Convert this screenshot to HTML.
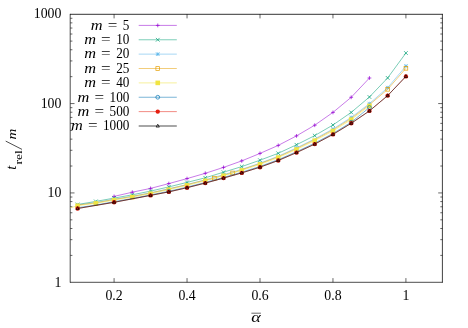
<!DOCTYPE html>
<html><head><meta charset="utf-8"><title>plot</title>
<style>
html,body{margin:0;padding:0;background:#fff;}
svg{display:block;font-family:"Liberation Serif",serif;font-size:13.8px;fill:#000;}
</style></head><body>
<svg width="468" height="328" viewBox="0 0 468 328">
<rect x="0" y="0" width="468" height="328" fill="#fff"/>
<g><path d="M70.2 13.899999999999999V282.6" stroke="#000" stroke-width="0.7"/>
<path d="M442.4 13.899999999999999V282.6" stroke="#000" stroke-width="0.75"/>
<path d="M70.0 14.3H442.7" stroke="#000" stroke-width="0.8"/>
<path d="M70.0 282.3H442.7" stroke="#000" stroke-width="0.7"/>
<path d="M114.08 282.3v-4.2M114.08 14.2v4.2M187.04 282.3v-4.2M187.04 14.2v4.2M260.00 282.3v-4.2M260.00 14.2v4.2M332.96 282.3v-4.2M332.96 14.2v4.2M405.92 282.3v-4.2M405.92 14.2v4.2M70.3 255.40h2.1M442.4 255.40h-2.1M70.3 239.66h2.1M442.4 239.66h-2.1M70.3 228.50h2.1M442.4 228.50h-2.1M70.3 219.84h2.1M442.4 219.84h-2.1M70.3 212.76h2.1M442.4 212.76h-2.1M70.3 206.78h2.1M442.4 206.78h-2.1M70.3 201.59h2.1M442.4 201.59h-2.1M70.3 197.02h2.1M442.4 197.02h-2.1M70.3 192.93h4.2M442.4 192.93h-4.2M70.3 166.03h2.1M442.4 166.03h-2.1M70.3 150.29h2.1M442.4 150.29h-2.1M70.3 139.13h2.1M442.4 139.13h-2.1M70.3 130.47h2.1M442.4 130.47h-2.1M70.3 123.39h2.1M442.4 123.39h-2.1M70.3 117.41h2.1M442.4 117.41h-2.1M70.3 112.23h2.1M442.4 112.23h-2.1M70.3 107.66h2.1M442.4 107.66h-2.1M70.3 103.57h4.2M442.4 103.57h-4.2M70.3 76.66h2.1M442.4 76.66h-2.1M70.3 60.93h2.1M442.4 60.93h-2.1M70.3 49.76h2.1M442.4 49.76h-2.1M70.3 41.10h2.1M442.4 41.10h-2.1M70.3 34.03h2.1M442.4 34.03h-2.1M70.3 28.04h2.1M442.4 28.04h-2.1M70.3 22.86h2.1M442.4 22.86h-2.1M70.3 18.29h2.1M442.4 18.29h-2.1" stroke="#000" stroke-width="0.6" fill="none"/></g>
<g><path d="M114.08 196.40L132.32 192.20L150.56 188.40L168.80 183.60L187.04 178.60L205.28 173.30L223.52 167.40L241.76 160.90L260.00 153.40L278.24 145.40L296.48 135.90L314.72 125.20L332.96 112.40L351.20 97.30L369.44 78.00" stroke="#9400d3" stroke-width="0.52" fill="none"/>
<path d="M112.18 196.40H115.98M114.08 194.50V198.30" stroke="#9400d3" stroke-width="0.7" fill="none"/>
<path d="M130.42 192.20H134.22M132.32 190.30V194.10" stroke="#9400d3" stroke-width="0.7" fill="none"/>
<path d="M148.66 188.40H152.46M150.56 186.50V190.30" stroke="#9400d3" stroke-width="0.7" fill="none"/>
<path d="M166.90 183.60H170.70M168.80 181.70V185.50" stroke="#9400d3" stroke-width="0.7" fill="none"/>
<path d="M185.14 178.60H188.94M187.04 176.70V180.50" stroke="#9400d3" stroke-width="0.7" fill="none"/>
<path d="M203.38 173.30H207.18M205.28 171.40V175.20" stroke="#9400d3" stroke-width="0.7" fill="none"/>
<path d="M221.62 167.40H225.42M223.52 165.50V169.30" stroke="#9400d3" stroke-width="0.7" fill="none"/>
<path d="M239.86 160.90H243.66M241.76 159.00V162.80" stroke="#9400d3" stroke-width="0.7" fill="none"/>
<path d="M258.10 153.40H261.90M260.00 151.50V155.30" stroke="#9400d3" stroke-width="0.7" fill="none"/>
<path d="M276.34 145.40H280.14M278.24 143.50V147.30" stroke="#9400d3" stroke-width="0.7" fill="none"/>
<path d="M294.58 135.90H298.38M296.48 134.00V137.80" stroke="#9400d3" stroke-width="0.7" fill="none"/>
<path d="M312.82 125.20H316.62M314.72 123.30V127.10" stroke="#9400d3" stroke-width="0.7" fill="none"/>
<path d="M331.06 112.40H334.86M332.96 110.50V114.30" stroke="#9400d3" stroke-width="0.7" fill="none"/>
<path d="M349.30 97.30H353.10M351.20 95.40V99.20" stroke="#9400d3" stroke-width="0.7" fill="none"/>
<path d="M367.54 78.00H371.34M369.44 76.10V79.90" stroke="#9400d3" stroke-width="0.7" fill="none"/>
<path d="M77.60 204.50L95.84 201.40L114.08 198.10L132.32 194.80L150.56 191.10L168.80 186.90L187.04 182.40L205.28 177.80L223.52 172.20L241.76 166.60L260.00 160.20L278.24 153.30L296.48 144.80L314.72 135.60L332.96 125.00L351.20 112.40L369.44 97.00L387.68 77.90L405.92 53.00" stroke="#009e73" stroke-width="0.52" fill="none"/>
<path d="M75.75 202.65L79.45 206.35M75.75 206.35L79.45 202.65" stroke="#009e73" stroke-width="0.7" fill="none"/>
<path d="M93.99 199.55L97.69 203.25M93.99 203.25L97.69 199.55" stroke="#009e73" stroke-width="0.7" fill="none"/>
<path d="M112.23 196.25L115.93 199.95M112.23 199.95L115.93 196.25" stroke="#009e73" stroke-width="0.7" fill="none"/>
<path d="M130.47 192.95L134.17 196.65M130.47 196.65L134.17 192.95" stroke="#009e73" stroke-width="0.7" fill="none"/>
<path d="M148.71 189.25L152.41 192.95M148.71 192.95L152.41 189.25" stroke="#009e73" stroke-width="0.7" fill="none"/>
<path d="M166.95 185.05L170.65 188.75M166.95 188.75L170.65 185.05" stroke="#009e73" stroke-width="0.7" fill="none"/>
<path d="M185.19 180.55L188.89 184.25M185.19 184.25L188.89 180.55" stroke="#009e73" stroke-width="0.7" fill="none"/>
<path d="M203.43 175.95L207.13 179.65M203.43 179.65L207.13 175.95" stroke="#009e73" stroke-width="0.7" fill="none"/>
<path d="M221.67 170.35L225.37 174.05M221.67 174.05L225.37 170.35" stroke="#009e73" stroke-width="0.7" fill="none"/>
<path d="M239.91 164.75L243.61 168.45M239.91 168.45L243.61 164.75" stroke="#009e73" stroke-width="0.7" fill="none"/>
<path d="M258.15 158.35L261.85 162.05M258.15 162.05L261.85 158.35" stroke="#009e73" stroke-width="0.7" fill="none"/>
<path d="M276.39 151.45L280.09 155.15M276.39 155.15L280.09 151.45" stroke="#009e73" stroke-width="0.7" fill="none"/>
<path d="M294.63 142.95L298.33 146.65M294.63 146.65L298.33 142.95" stroke="#009e73" stroke-width="0.7" fill="none"/>
<path d="M312.87 133.75L316.57 137.45M312.87 137.45L316.57 133.75" stroke="#009e73" stroke-width="0.7" fill="none"/>
<path d="M331.11 123.15L334.81 126.85M331.11 126.85L334.81 123.15" stroke="#009e73" stroke-width="0.7" fill="none"/>
<path d="M349.35 110.55L353.05 114.25M349.35 114.25L353.05 110.55" stroke="#009e73" stroke-width="0.7" fill="none"/>
<path d="M367.59 95.15L371.29 98.85M367.59 98.85L371.29 95.15" stroke="#009e73" stroke-width="0.7" fill="none"/>
<path d="M385.83 76.05L389.53 79.75M385.83 79.75L389.53 76.05" stroke="#009e73" stroke-width="0.7" fill="none"/>
<path d="M404.07 51.15L407.77 54.85M404.07 54.85L407.77 51.15" stroke="#009e73" stroke-width="0.7" fill="none"/>
<path d="M77.60 204.80L95.84 202.50L114.08 199.20L132.32 196.20L150.56 192.80L168.80 188.80L187.04 184.50L205.28 179.80L223.52 174.70L241.76 169.30L260.00 163.20L278.24 156.20L296.48 147.90L314.72 138.90L332.96 129.00L351.20 117.45L369.44 103.65L387.68 87.70L405.92 66.10" stroke="#56b4e9" stroke-width="0.52" fill="none"/>
<path d="M75.75 202.95L79.45 206.65M75.75 206.65L79.45 202.95M75.75 204.80H79.45M77.60 202.95V206.65" stroke="#56b4e9" stroke-width="0.7" fill="none"/>
<path d="M112.23 197.35L115.93 201.05M112.23 201.05L115.93 197.35M112.23 199.20H115.93M114.08 197.35V201.05" stroke="#56b4e9" stroke-width="0.7" fill="none"/>
<path d="M148.71 190.95L152.41 194.65M148.71 194.65L152.41 190.95M148.71 192.80H152.41M150.56 190.95V194.65" stroke="#56b4e9" stroke-width="0.7" fill="none"/>
<path d="M185.19 182.65L188.89 186.35M185.19 186.35L188.89 182.65M185.19 184.50H188.89M187.04 182.65V186.35" stroke="#56b4e9" stroke-width="0.7" fill="none"/>
<path d="M221.67 172.85L225.37 176.55M221.67 176.55L225.37 172.85M221.67 174.70H225.37M223.52 172.85V176.55" stroke="#56b4e9" stroke-width="0.7" fill="none"/>
<path d="M258.15 161.35L261.85 165.05M258.15 165.05L261.85 161.35M258.15 163.20H261.85M260.00 161.35V165.05" stroke="#56b4e9" stroke-width="0.7" fill="none"/>
<path d="M294.63 146.05L298.33 149.75M294.63 149.75L298.33 146.05M294.63 147.90H298.33M296.48 146.05V149.75" stroke="#56b4e9" stroke-width="0.7" fill="none"/>
<path d="M331.11 127.15L334.81 130.85M331.11 130.85L334.81 127.15M331.11 129.00H334.81M332.96 127.15V130.85" stroke="#56b4e9" stroke-width="0.7" fill="none"/>
<path d="M349.35 115.60L353.05 119.30M349.35 119.30L353.05 115.60M349.35 117.45H353.05M351.20 115.60V119.30" stroke="#56b4e9" stroke-width="0.7" fill="none"/>
<path d="M367.59 101.80L371.29 105.50M367.59 105.50L371.29 101.80M367.59 103.65H371.29M369.44 101.80V105.50" stroke="#56b4e9" stroke-width="0.7" fill="none"/>
<path d="M385.83 85.85L389.53 89.55M385.83 89.55L389.53 85.85M385.83 87.70H389.53M387.68 85.85V89.55" stroke="#56b4e9" stroke-width="0.7" fill="none"/>
<path d="M404.07 64.25L407.77 67.95M404.07 67.95L407.77 64.25M404.07 66.10H407.77M405.92 64.25V67.95" stroke="#56b4e9" stroke-width="0.7" fill="none"/>
<path d="M77.60 205.10L95.84 202.80L114.08 199.50L132.32 196.50L150.56 193.00L168.80 189.00L187.04 184.70L205.28 180.10L214.40 178.15L223.52 175.00L232.64 172.95L241.76 169.70L260.00 163.60L278.24 156.80L296.48 148.60L314.72 139.70L332.96 129.90L351.20 118.45L369.44 104.75L387.68 89.30L405.92 68.30" stroke="#e69f00" stroke-width="0.52" fill="none"/>
<rect x="212.55" y="176.30" width="3.7" height="3.7" stroke="#e69f00" stroke-width="0.7" fill="none"/>
<rect x="230.79" y="171.10" width="3.7" height="3.7" stroke="#e69f00" stroke-width="0.7" fill="none"/>
<rect x="385.83" y="87.45" width="3.7" height="3.7" stroke="#e69f00" stroke-width="0.7" fill="none"/>
<rect x="404.07" y="66.45" width="3.7" height="3.7" stroke="#e69f00" stroke-width="0.7" fill="none"/>
<path d="M70.30 207.90L77.60 205.70L95.84 203.40L114.08 200.10L132.32 197.10L150.56 193.70L168.80 189.70L187.04 185.40L205.28 180.80L223.52 175.70L241.76 170.40L260.00 164.40L278.24 157.60L296.48 149.50L314.72 140.70L332.96 131.00L351.20 119.65L369.44 105.95" stroke="#f0e442" stroke-width="0.52" fill="none"/>
<rect x="75.30" y="203.40" width="4.6" height="4.6" fill="#f0e442"/>
<rect x="93.54" y="201.10" width="4.6" height="4.6" fill="#f0e442"/>
<rect x="111.78" y="197.80" width="4.6" height="4.6" fill="#f0e442"/>
<rect x="130.02" y="194.80" width="4.6" height="4.6" fill="#f0e442"/>
<rect x="148.26" y="191.40" width="4.6" height="4.6" fill="#f0e442"/>
<rect x="166.50" y="187.40" width="4.6" height="4.6" fill="#f0e442"/>
<rect x="184.74" y="183.10" width="4.6" height="4.6" fill="#f0e442"/>
<rect x="202.98" y="178.50" width="4.6" height="4.6" fill="#f0e442"/>
<rect x="221.22" y="173.40" width="4.6" height="4.6" fill="#f0e442"/>
<rect x="239.46" y="168.10" width="4.6" height="4.6" fill="#f0e442"/>
<rect x="257.70" y="162.10" width="4.6" height="4.6" fill="#f0e442"/>
<rect x="275.94" y="155.30" width="4.6" height="4.6" fill="#f0e442"/>
<rect x="294.18" y="147.20" width="4.6" height="4.6" fill="#f0e442"/>
<rect x="312.42" y="138.40" width="4.6" height="4.6" fill="#f0e442"/>
<rect x="330.66" y="128.70" width="4.6" height="4.6" fill="#f0e442"/>
<rect x="348.90" y="117.35" width="4.6" height="4.6" fill="#f0e442"/>
<rect x="367.14" y="103.65" width="4.6" height="4.6" fill="#f0e442"/>
<path d="M77.60 207.72L95.84 205.06L114.08 201.68L132.32 198.47L150.56 194.92L168.80 191.28L187.04 187.06L205.28 182.46L223.52 177.43L241.76 172.20L260.00 166.42L278.24 159.69L296.48 151.73L314.72 143.15L332.96 133.45L351.20 122.28L369.44 107.50" stroke="#0072b2" stroke-width="0.52" fill="none"/>
<circle cx="168.80" cy="191.28" r="1.9" stroke="#0072b2" stroke-width="0.7" fill="none"/>
<circle cx="351.20" cy="122.28" r="1.9" stroke="#0072b2" stroke-width="0.7" fill="none"/>
<circle cx="369.44" cy="107.50" r="1.9" stroke="#0072b2" stroke-width="0.7" fill="none"/>
<path d="M77.60 208.50L114.08 202.30L150.56 195.40L168.80 191.90L187.04 187.70L205.28 183.10L223.52 178.10L241.76 172.90L260.00 167.20L278.24 160.50L296.48 152.60L314.72 144.10L332.96 134.40L351.20 123.30L369.44 110.90L387.68 95.60L405.92 76.40" stroke="#e51e10" stroke-width="0.52" fill="none"/>
<circle cx="77.60" cy="208.50" r="2.2" fill="#e51e10"/>
<circle cx="114.08" cy="202.30" r="2.2" fill="#e51e10"/>
<circle cx="150.56" cy="195.40" r="2.2" fill="#e51e10"/>
<circle cx="168.80" cy="191.90" r="2.2" fill="#e51e10"/>
<circle cx="187.04" cy="187.70" r="2.2" fill="#e51e10"/>
<circle cx="205.28" cy="183.10" r="2.2" fill="#e51e10"/>
<circle cx="223.52" cy="178.10" r="2.2" fill="#e51e10"/>
<circle cx="241.76" cy="172.90" r="2.2" fill="#e51e10"/>
<circle cx="260.00" cy="167.20" r="2.2" fill="#e51e10"/>
<circle cx="278.24" cy="160.50" r="2.2" fill="#e51e10"/>
<circle cx="296.48" cy="152.60" r="2.2" fill="#e51e10"/>
<circle cx="314.72" cy="144.10" r="2.2" fill="#e51e10"/>
<circle cx="332.96" cy="134.40" r="2.2" fill="#e51e10"/>
<circle cx="351.20" cy="123.30" r="2.2" fill="#e51e10"/>
<circle cx="369.44" cy="110.90" r="2.2" fill="#e51e10"/>
<circle cx="387.68" cy="95.60" r="2.2" fill="#e51e10"/>
<circle cx="405.92" cy="76.40" r="2.2" fill="#e51e10"/>
<path d="M77.60 208.50L114.08 202.30L150.56 195.40L168.80 191.90L187.04 187.70L205.28 183.10L223.52 178.10L241.76 172.90L260.00 167.20L278.24 160.50L296.48 152.60L314.72 144.10L332.96 134.40L351.20 123.30L369.44 110.90L387.68 95.60L405.92 76.40" stroke="#000000" stroke-width="0.52" fill="none"/>
<path d="M77.60 206.70L75.98 209.58H79.22Z" stroke="#000000" stroke-width="0.7" fill="none"/>
<path d="M114.08 200.50L112.46 203.38H115.70Z" stroke="#000000" stroke-width="0.7" fill="none"/>
<path d="M150.56 193.60L148.94 196.48H152.18Z" stroke="#000000" stroke-width="0.7" fill="none"/>
<path d="M168.80 190.10L167.18 192.98H170.42Z" stroke="#000000" stroke-width="0.7" fill="none"/>
<path d="M187.04 185.90L185.42 188.78H188.66Z" stroke="#000000" stroke-width="0.7" fill="none"/>
<path d="M205.28 181.30L203.66 184.18H206.90Z" stroke="#000000" stroke-width="0.7" fill="none"/>
<path d="M223.52 176.30L221.90 179.18H225.14Z" stroke="#000000" stroke-width="0.7" fill="none"/>
<path d="M241.76 171.10L240.14 173.98H243.38Z" stroke="#000000" stroke-width="0.7" fill="none"/>
<path d="M260.00 165.40L258.38 168.28H261.62Z" stroke="#000000" stroke-width="0.7" fill="none"/>
<path d="M278.24 158.70L276.62 161.58H279.86Z" stroke="#000000" stroke-width="0.7" fill="none"/>
<path d="M296.48 150.80L294.86 153.68H298.10Z" stroke="#000000" stroke-width="0.7" fill="none"/>
<path d="M314.72 142.30L313.10 145.18H316.34Z" stroke="#000000" stroke-width="0.7" fill="none"/>
<path d="M332.96 132.60L331.34 135.48H334.58Z" stroke="#000000" stroke-width="0.7" fill="none"/>
<path d="M351.20 121.50L349.58 124.38H352.82Z" stroke="#000000" stroke-width="0.7" fill="none"/>
<path d="M369.44 109.10L367.82 111.98H371.06Z" stroke="#000000" stroke-width="0.7" fill="none"/>
<path d="M387.68 93.80L386.06 96.68H389.30Z" stroke="#000000" stroke-width="0.7" fill="none"/>
<path d="M405.92 74.60L404.30 77.48H407.54Z" stroke="#000000" stroke-width="0.7" fill="none"/></g>
<g><path d="M138.7 25.40H176.8" stroke="#9400d3" stroke-width="0.52" fill="none"/>
<path d="M155.85 25.40H159.65M157.75 23.50V27.30" stroke="#9400d3" stroke-width="0.7" fill="none"/>
<path d="M138.7 39.77H176.8" stroke="#009e73" stroke-width="0.52" fill="none"/>
<path d="M155.90 37.92L159.60 41.62M155.90 41.62L159.60 37.92" stroke="#009e73" stroke-width="0.7" fill="none"/>
<path d="M138.7 54.14H176.8" stroke="#56b4e9" stroke-width="0.52" fill="none"/>
<path d="M155.90 52.29L159.60 55.99M155.90 55.99L159.60 52.29M155.90 54.14H159.60M157.75 52.29V55.99" stroke="#56b4e9" stroke-width="0.7" fill="none"/>
<path d="M138.7 68.51H176.8" stroke="#e69f00" stroke-width="0.52" fill="none"/>
<rect x="155.90" y="66.66" width="3.7" height="3.7" stroke="#e69f00" stroke-width="0.7" fill="none"/>
<path d="M138.7 82.88H176.8" stroke="#f0e442" stroke-width="0.52" fill="none"/>
<rect x="155.45" y="80.58" width="4.6" height="4.6" fill="#f0e442"/>
<path d="M138.7 97.25H176.8" stroke="#0072b2" stroke-width="0.52" fill="none"/>
<circle cx="157.75" cy="97.25" r="1.9" stroke="#0072b2" stroke-width="0.7" fill="none"/>
<path d="M138.7 111.62H176.8" stroke="#e51e10" stroke-width="0.52" fill="none"/>
<circle cx="157.75" cy="111.62" r="2.2" fill="#e51e10"/>
<path d="M138.7 126.00H176.8" stroke="#000000" stroke-width="0.7" fill="none"/>
<path d="M157.75 124.20L156.13 127.08H159.37Z" stroke="#000000" stroke-width="0.7" fill="none"/></g>
<g stroke="none" style="filter:grayscale(1)"><text x="61.40" y="286.50" text-anchor="end" >1</text>
<text x="61.40" y="197.13" text-anchor="end" >10</text>
<text x="61.40" y="107.77" text-anchor="end" >100</text>
<text x="61.40" y="18.40" text-anchor="end" >1000</text>
<text x="114.08" y="299.90" text-anchor="middle" >0.2</text>
<text x="187.04" y="299.90" text-anchor="middle" >0.4</text>
<text x="260.00" y="299.90" text-anchor="middle" >0.6</text>
<text x="332.96" y="299.90" text-anchor="middle" >0.8</text>
<text x="405.92" y="299.90" text-anchor="middle" >1</text>
<text x="122.80" y="29.70" textLength="6.60" lengthAdjust="spacingAndGlyphs">5</text>
<text x="107.70" y="29.70" textLength="9.6" lengthAdjust="spacingAndGlyphs">=</text>
<text x="90.80" y="29.70" textLength="11.8" lengthAdjust="spacingAndGlyphs" font-style="italic">m</text>
<text x="116.20" y="44.07" textLength="13.20" lengthAdjust="spacingAndGlyphs">10</text>
<text x="101.10" y="44.07" textLength="9.6" lengthAdjust="spacingAndGlyphs">=</text>
<text x="84.20" y="44.07" textLength="11.8" lengthAdjust="spacingAndGlyphs" font-style="italic">m</text>
<text x="116.20" y="58.44" textLength="13.20" lengthAdjust="spacingAndGlyphs">20</text>
<text x="101.10" y="58.44" textLength="9.6" lengthAdjust="spacingAndGlyphs">=</text>
<text x="84.20" y="58.44" textLength="11.8" lengthAdjust="spacingAndGlyphs" font-style="italic">m</text>
<text x="116.20" y="72.81" textLength="13.20" lengthAdjust="spacingAndGlyphs">25</text>
<text x="101.10" y="72.81" textLength="9.6" lengthAdjust="spacingAndGlyphs">=</text>
<text x="84.20" y="72.81" textLength="11.8" lengthAdjust="spacingAndGlyphs" font-style="italic">m</text>
<text x="116.20" y="87.18" textLength="13.20" lengthAdjust="spacingAndGlyphs">40</text>
<text x="101.10" y="87.18" textLength="9.6" lengthAdjust="spacingAndGlyphs">=</text>
<text x="84.20" y="87.18" textLength="11.8" lengthAdjust="spacingAndGlyphs" font-style="italic">m</text>
<text x="109.60" y="101.55" textLength="19.80" lengthAdjust="spacingAndGlyphs">100</text>
<text x="94.50" y="101.55" textLength="9.6" lengthAdjust="spacingAndGlyphs">=</text>
<text x="77.60" y="101.55" textLength="11.8" lengthAdjust="spacingAndGlyphs" font-style="italic">m</text>
<text x="109.60" y="115.92" textLength="19.80" lengthAdjust="spacingAndGlyphs">500</text>
<text x="94.50" y="115.92" textLength="9.6" lengthAdjust="spacingAndGlyphs">=</text>
<text x="77.60" y="115.92" textLength="11.8" lengthAdjust="spacingAndGlyphs" font-style="italic">m</text>
<text x="103.00" y="130.30" textLength="26.40" lengthAdjust="spacingAndGlyphs">1000</text>
<text x="87.90" y="130.30" textLength="9.6" lengthAdjust="spacingAndGlyphs">=</text>
<text x="71.00" y="130.30" textLength="11.8" lengthAdjust="spacingAndGlyphs" font-style="italic">m</text>
<text x="251.3" y="322" textLength="9.5" lengthAdjust="spacingAndGlyphs" font-style="italic">α</text>
<path d="M251.4 313.2H260.9" stroke="#000" stroke-width="0.6"/>
<g transform="translate(16.3,170.4) rotate(-90)"><text x="0.6" y="0" font-style="italic" font-size="14.5">t</text><text x="6.0" y="5.9" font-size="10" textLength="14.2" lengthAdjust="spacingAndGlyphs">rel</text><text x="30.8" y="0" font-style="italic" font-size="13" textLength="10.8" lengthAdjust="spacingAndGlyphs">m</text></g>
<path d="M22.0 149.4L5.7 141.1" stroke="#000" stroke-width="0.7" fill="none"/></g>
</svg>
</body></html>
